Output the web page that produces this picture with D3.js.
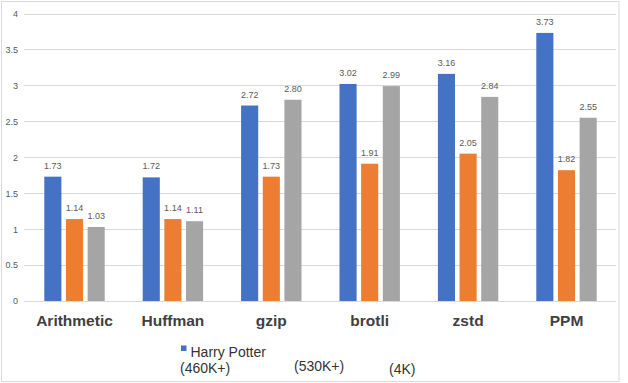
<!DOCTYPE html>
<html><head><meta charset="utf-8">
<script src="https://cdn.jsdelivr.net/npm/d3@7"></script>
<style>body{margin:0;background:#fff}svg{display:block;font-family:"Liberation Sans",Arial,sans-serif}</style>
</head><body><svg id="c" width="628" height="383"></svg>
<script>
const categories = ["Arithmetic","Huffman","gzip","brotli","zstd","PPM"];
const seriesNames = ["Harry Potter (460K+)","(530K+)","(4K)"];
const s1 = [1.73,1.72,2.72,3.02,3.16,3.73];
const s2 = [1.14,1.14,1.73,1.91,2.05,1.82];
const s3 = [1.03,1.11,2.80,2.99,2.84,2.55];
const yTicks = [0,0.5,1,1.5,2,2.5,3,3.5,4];
const colors = ["#4472C4","#ED7D31","#A5A5A5"];
const seriesValues = [s1,s2,s3];

const svg = d3.select("#c");
svg.append("rect").attr("x",1.5).attr("y",1.5).attr("width",617.5).attr("height",380)
  .attr("fill","#fff").attr("stroke","#d9d9d9");

const x0 = d3.scaleBand().domain(categories).range([25.3,615.7]);
const bw = x0.bandwidth();
const x1 = d3.scaleBand().domain(d3.range(3)).range([bw/2-30.2, bw/2+30.2]).paddingInner(0.21);
const y = d3.scaleLinear().domain([0,4]).range([301,13.5]);

// gridlines
svg.append("g").selectAll("line").data(yTicks).join("line")
  .attr("x1",24).attr("x2",616).attr("y1",d=>Math.round(y(d))+0.5).attr("y2",d=>Math.round(y(d))+0.5)
  .attr("stroke","#d9d9d9").attr("stroke-width",1);

// y tick labels
const yAxis = d3.axisLeft(y).tickValues(yTicks).tickSize(0).tickPadding(0).tickFormat(d=>String(d));
const ga = svg.append("g").attr("transform","translate(18,0)").call(yAxis);
ga.select(".domain").remove();
ga.selectAll("text").attr("fill","#595959").attr("font-size",9).attr("font-family","Liberation Sans, Arial, sans-serif");

// bars
const groups = svg.append("g").selectAll("g").data(categories).join("g")
  .attr("transform",d=>`translate(${x0(d)},0)`);
groups.each(function(cat,ci){
  const g = d3.select(this);
  seriesValues.forEach((vals,si)=>{
    const v = vals[ci];
    g.append("rect").attr("x",x1(si)).attr("width",x1.bandwidth())
      .attr("y",y(v)).attr("height",y(0)-y(v)).attr("fill",colors[si]);
    g.append("text").attr("x",x1(si)+x1.bandwidth()/2).attr("y",y(v)-8)
      .attr("text-anchor","middle").attr("font-size",9).attr("fill","#595959")
      .text(v.toFixed(2));
  });
});

// category labels
const xAxis = d3.axisBottom(x0).tickSize(0).tickPadding(0);
const gx = svg.append("g").attr("transform","translate(0,315)").call(xAxis);
gx.select(".domain").remove();
gx.selectAll("text").attr("font-size",15.5).attr("font-weight","bold").attr("fill","#404040")
  .attr("font-family","Liberation Sans, Arial, sans-serif");

// legend
const lg = svg.append("g");
lg.append("rect").attr("x",181).attr("y",345.5).attr("width",5.5).attr("height",5.5).attr("fill",colors[0]);
lg.append("text").attr("x",190.5).attr("y",357).attr("font-size",14).attr("fill","#333").text("Harry Potter");
lg.append("text").attr("x",180).attr("y",373).attr("font-size",14).attr("fill","#333").text("(460K+)");
lg.append("text").attr("x",294).attr("y",371).attr("font-size",14).attr("fill","#333").text(seriesNames[1]);
lg.append("text").attr("x",389).attr("y",374).attr("font-size",14).attr("fill","#333").text(seriesNames[2]);
</script></body></html>
